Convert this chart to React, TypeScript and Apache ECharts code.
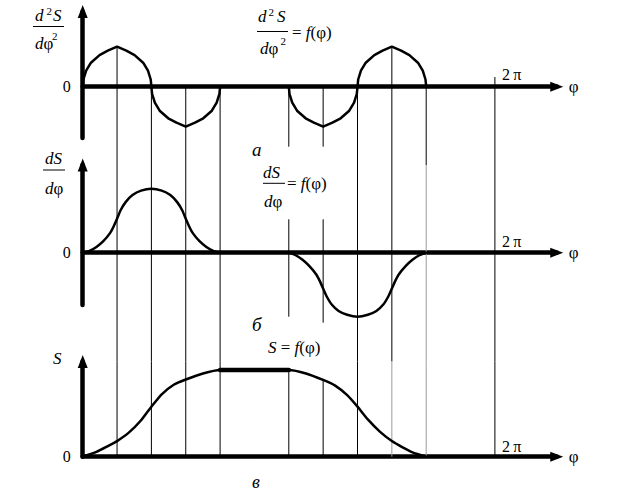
import React, { useEffect, useRef } from "react";
import * as echarts from "echarts";

// φ measured in units of π/6 (so 2π = 12)
const FULL_TURN = 12;
const PHI_MAX = 13.8;
const GUIDE_PHI = [1, 2, 3, 4, 6, 7, 8, 9, 10, 12];

// d²S/dφ² (normalised, peak = 1)
const PHI_D2S = [
  0, 0.02, 0.1, 0.24, 0.49, 0.73, 1, 1.27, 1.51, 1.76, 1.9, 1.98, 2,
  2.02, 2.1, 2.24, 2.49, 2.73, 3, 3.27, 3.51, 3.76, 3.9, 3.98, 4,
  6, 6.02, 6.1, 6.24, 6.49, 6.73, 7, 7.27, 7.51, 7.76, 7.9, 7.98, 8,
  8.02, 8.1, 8.24, 8.49, 8.73, 9, 9.27, 9.51, 9.76, 9.9, 9.98, 10,
];
const VAL_D2S = [
  0, 0.18, 0.4, 0.6, 0.79, 0.9, 1, 0.9, 0.79, 0.6, 0.4, 0.18, 0,
  -0.18, -0.4, -0.6, -0.79, -0.9, -1, -0.9, -0.79, -0.6, -0.4, -0.18, 0,
  0, -0.18, -0.4, -0.6, -0.79, -0.9, -1, -0.9, -0.79, -0.6, -0.4, -0.18, 0,
  0.18, 0.4, 0.6, 0.79, 0.9, 1, 0.9, 0.79, 0.6, 0.4, 0.18, 0,
];

// dS/dφ (normalised, peak = 1)
const PHI_DS = [
  0, 0.2, 0.4, 0.6, 0.8, 0.9, 1, 1.1, 1.25, 1.45, 1.7, 2,
  2.3, 2.55, 2.75, 2.9, 3, 3.1, 3.2, 3.4, 3.6, 3.8, 4,
  6, 6.2, 6.4, 6.6, 6.8, 6.9, 7, 7.1, 7.25, 7.45, 7.7, 8,
  8.3, 8.55, 8.75, 8.9, 9, 9.1, 9.2, 9.4, 9.6, 9.8, 10,
];
const VAL_DS = [
  0, 0.03, 0.09, 0.18, 0.31, 0.41, 0.53, 0.66, 0.79, 0.9, 0.97, 1,
  0.97, 0.9, 0.79, 0.66, 0.53, 0.41, 0.31, 0.18, 0.09, 0.03, 0,
  0, -0.04, -0.11, -0.21, -0.34, -0.44, -0.56, -0.68, -0.81, -0.91, -0.97, -1,
  -0.97, -0.91, -0.81, -0.68, -0.56, -0.44, -0.34, -0.21, -0.11, -0.04, 0,
];

// S (normalised, dwell = 1)
const PHI_S = [
  0, 0.4, 0.7, 1, 1.35, 1.7, 2, 2.3, 2.65, 3, 3.5, 4,
  6, 6.5, 7, 7.35, 7.7, 8, 8.3, 8.65, 9, 9.3, 9.6, 10,
];
const VAL_S = [
  0, 0.055, 0.115, 0.18, 0.28, 0.42, 0.577, 0.72, 0.83, 0.89, 0.96, 1,
  1, 0.96, 0.885, 0.82, 0.71, 0.577, 0.43, 0.29, 0.18, 0.11, 0.05, 0,
];
const PHI_DWELL = [4, 6];
const VAL_DWELL = [1, 1];

const SERIF = "Liberation Serif";

// page layout of the three plots
const X0 = 82.7;
const UNIT_X = 34.35;
const LAYOUT = [
  { top: 11.5, bottom: 138, zero: 86.7, unit: 40 },
  { top: 165, bottom: 305, zero: 252.7, unit: 64 },
  { top: 361.5, bottom: 456.7, zero: 456.7, unit: 86.7 },
];
const valAt = (g: number, y: number) => (LAYOUT[g].zero - y) / LAYOUT[g].unit;

const zip = (a: number[], b: number[]) => a.map((p, i) => [p, b[i]]);
const at = (phis: number[], vals: number[], p: number) => vals[phis.indexOf(p)];

export default function App() {
  const ref = useRef<HTMLDivElement>(null);
  useEffect(() => {
    if (!ref.current) return;
    const chart = echarts.init(ref.current, null, { renderer: "svg" });

    const grid = LAYOUT.map((l) => ({
      left: X0,
      top: l.top,
      width: UNIT_X * PHI_MAX,
      height: l.bottom - l.top,
    }));
    const axisLine = {
      show: true,
      onZero: true,
      symbol: ["none", "triangle"],
      symbolSize: [10, 13],
      lineStyle: { color: "#000", width: 4.5 },
    };
    const xAxis = LAYOUT.map((_, i) => ({
      type: "value",
      gridIndex: i,
      min: 0,
      max: PHI_MAX,
      axisLine,
      axisTick: { show: false },
      axisLabel: { show: false },
      splitLine: { show: false },
      name: "φ",
      nameLocation: "end",
      nameGap: 12,
      nameTextStyle: { fontFamily: SERIF, fontSize: 17, color: "#000", verticalAlign: "middle" },
    }));
    const yAxis = LAYOUT.map((l, i) => ({
      type: "value",
      gridIndex: i,
      min: valAt(i, l.bottom),
      max: valAt(i, l.top),
      axisLine,
      axisTick: { show: false },
      splitLine: { show: false },
      axisLabel: {
        customValues: [0],
        formatter: (v: number) => (Math.abs(v) < 1e-9 ? "0" : ""),
        margin: 12,
        fontFamily: SERIF,
        fontSize: 16,
        color: "#000",
      },
    }));

    const series: any[] = [];
    const guide = (g: number, phi: number, y1: number, y2: number, color = "#000") => {
      series.push({
        type: "line",
        xAxisIndex: g,
        yAxisIndex: g,
        data: [
          [phi, y1],
          [phi, y2],
        ],
        symbol: "none",
        silent: true,
        clip: false,
        z: 1,
        lineStyle: { color, width: 1 },
      });
    };
    // plot a
    const g0Bottom = valAt(0, LAYOUT[1].top);
    GUIDE_PHI.forEach((p) => {
      if (p === 6 || p === 7) guide(0, p, 0, valAt(0, 146.7));
      else if (p === FULL_TURN) guide(0, p, valAt(0, 77), g0Bottom);
      else guide(0, p, Math.max(0, at(PHI_D2S, VAL_D2S, p)), g0Bottom);
    });
    // plot б
    const g1Top = valAt(1, LAYOUT[1].top);
    const g1Bottom = valAt(1, LAYOUT[2].top);
    GUIDE_PHI.forEach((p) => {
      if (p === 6) guide(1, p, valAt(1, 219.3), at(PHI_DS, VAL_DS, 8));
      else if (p === 7) guide(1, p, valAt(1, 219.3), valAt(1, 322.7));
      else guide(1, p, g1Top, g1Bottom, p === 10 ? "#9a9a9a" : "#000");
    });
    // plot в
    const g2Top = valAt(2, LAYOUT[2].top);
    GUIDE_PHI.forEach((p) => {
      if (p === 6 || p === 7) guide(2, p, at(PHI_S, VAL_S, p), 0);
      else guide(2, p, g2Top, 0, p === 9 || p === 10 ? "#9a9a9a" : "#000");
    });

    const curve = (g: number, data: number[][], width: number, smooth: number | boolean) => ({
      type: "line",
      xAxisIndex: g,
      yAxisIndex: g,
      data,
      symbol: "none",
      smooth,
      silent: true,
      clip: false,
      z: 5,
      lineStyle: { color: "#000", width, cap: "round", join: "round" },
    });
    series.push(curve(0, zip(PHI_D2S, VAL_D2S), 2.5, false));
    series.push(curve(1, zip(PHI_DS, VAL_DS), 2.5, 0.2));
    series.push(curve(2, zip(PHI_S, VAL_S), 2.5, 0.2));
    series.push(curve(2, zip(PHI_DWELL, VAL_DWELL), 4.5, false));

    const st = (size: number, italic: boolean) => ({
      fontFamily: SERIF,
      fontSize: size,
      fontStyle: italic ? "italic" : "normal",
      fill: "#000",
    });
    const rich = {
      i: st(17, true),
      n: st(17, false),
    };
    const txt = (x: number, y: number, text: string, size: number, italic: boolean, useRich = false) => ({
      type: "text",
      x,
      y,
      silent: true,
      style: {
        text,
        ...st(size, italic),
        align: "left",
        verticalAlign: "middle",
        ...(useRich ? { rich } : {}),
      },
    });
    const bar = (x1: number, x2: number, y: number) => ({
      type: "line",
      silent: true,
      shape: { x1, y1: y, x2, y2: y },
      style: { stroke: "#000", lineWidth: 1 },
    });

    const graphic = [
      // plot a, axis label
      txt(35, 15, "d", 17, true),
      txt(46.5, 11, "2", 11, false),
      txt(53, 15, "S", 17, true),
      bar(33, 64, 26.5),
      txt(35, 43, "{i|d}{n|φ}", 17, false, true),
      txt(52, 36, "2", 11, false),
      // plot a, title
      txt(258, 16, "d", 17, true),
      txt(268.5, 12, "2", 11, false),
      txt(277, 16, "S", 17, true),
      bar(257, 288, 31.5),
      txt(260, 48, "{i|d}{n|φ}", 17, false, true),
      txt(280.5, 41, "2", 11, false),
      txt(292, 32, "{n|= }{i|f}{n|(φ)}", 17, false, true),
      txt(252, 149, "а", 19, true),
      txt(502, 74, "2\u2009π", 16, false),
      // plot б
      txt(45, 158, "{i|dS}", 17, false, true),
      bar(43, 65, 170),
      txt(45, 188, "{i|d}{n|φ}", 17, false, true),
      txt(263, 172, "{i|dS}", 17, false, true),
      bar(263, 285, 183.3),
      txt(264, 201, "{i|d}{n|φ}", 17, false, true),
      txt(287, 183, "{n|= }{i|f}{n|(φ)}", 17, false, true),
      txt(252, 324, "б", 19, true),
      txt(502, 241, "2\u2009π", 16, false),
      // plot в
      txt(53, 358, "S", 17, true),
      txt(268, 347, "{i|S}{n| = }{i|f}{n|(φ)}", 17, false, true),
      txt(252, 482, "в", 18, true),
      txt(502, 446, "2\u2009π", 16, false),
    ];

    chart.setOption({
      animation: false,
      backgroundColor: "#fff",
      grid,
      xAxis,
      yAxis,
      series,
      graphic,
    });
    return () => chart.dispose();
  }, []);
  return (
    <div
      ref={ref}
      style={{ position: "absolute", left: 0, top: 0, width: 624, height: 492, background: "#fff" }}
    />
  );
}
